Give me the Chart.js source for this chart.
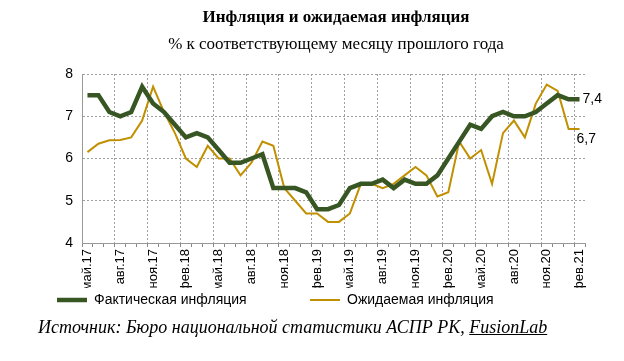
<!DOCTYPE html>
<html>
<head>
<meta charset="utf-8">
<script src="https://cdn.jsdelivr.net/npm/chart.js@4"></script>
<style>
  body { margin: 0; background: #fff; }
  #wrap { position: relative; width: 624px; height: 361px; }
  #chart { position: absolute; left: 0; top: 0; }
  .txt { position: absolute; font-family: "Liberation Serif", "Times New Roman", serif; color: #000; white-space: nowrap; line-height: 20px; }
  #title { left: 0; width: 672px; top: 7px; text-align: center; font-weight: bold; font-size: 17px; }
  #sub { left: 0; width: 672px; top: 34px; text-align: center; font-size: 17px; }
  #src { left: 38px; top: 317px; font-style: italic; font-size: 18px; }
</style>
</head>
<body>
<div id="wrap">
  <canvas id="chart" width="624" height="361"></canvas>
  <div class="txt" id="title">Инфляция и ожидаемая инфляция</div>
  <div class="txt" id="sub">% к соответствующему месяцу прошлого года</div>
  <div class="txt" id="src">Источник: Бюро национальной статистики АСПР РК, <u>FusionLab</u></div>
</div>
<script>
const months = [
  'май.17','июн.17','июл.17','авг.17','сен.17','окт.17','ноя.17','дек.17',
  'янв.18','фев.18','мар.18','апр.18','май.18','июн.18','июл.18','авг.18','сен.18','окт.18','ноя.18','дек.18',
  'янв.19','фев.19','мар.19','апр.19','май.19','июн.19','июл.19','авг.19','сен.19','окт.19','ноя.19','дек.19',
  'янв.20','фев.20','мар.20','апр.20','май.20','июн.20','июл.20','авг.20','сен.20','окт.20','ноя.20','дек.20',
  'янв.21','фев.21'
];

// Фактическая инфляция
const actual = [
  7.5, 7.5, 7.1, 7.0, 7.1, 7.7, 7.3, 7.1,
  6.8, 6.5, 6.6, 6.5, 6.2, 5.9, 5.9, 6.0, 6.1, 5.3, 5.3, 5.3,
  5.2, 4.8, 4.8, 4.9, 5.3, 5.4, 5.4, 5.5, 5.3, 5.5, 5.4, 5.4,
  5.6, 6.0, 6.4, 6.8, 6.7, 7.0, 7.1, 7.0, 7.0, 7.1, 7.3, 7.5,
  7.4, 7.4
];

// Ожидаемая инфляция
const expected = [
  6.15, 6.35, 6.43, 6.44, 6.5, 6.9, 7.7, 7.1,
  6.6, 6.0, 5.8, 6.3, 6.0, 6.0, 5.6, 5.9, 6.4, 6.3, 5.3, 5.0,
  4.7, 4.7, 4.5, 4.5, 4.7, 5.4, 5.4, 5.3, 5.4, 5.6, 5.8, 5.6,
  5.1, 5.2, 6.4, 6.0, 6.2, 5.4, 6.6, 6.9, 6.5, 7.3, 7.75, 7.6,
  6.7, 6.7
];

const yTicks = [4, 5, 6, 7, 8];

const GREEN = '#375623';
const GOLD = '#C09000';
const GRID = '#a0a0a0';

// подписи последних значений (7,4 и 6,7)
const endLabels = {
  id: 'endLabels',
  afterDatasetsDraw(chart) {
    const c = chart.ctx;
    c.save();
    c.font = '14px "Liberation Sans", Arial, sans-serif';
    c.fillStyle = '#000';
    chart.data.datasets.forEach((ds, i) => {
      const meta = chart.getDatasetMeta(i);
      const pt = meta.data[meta.data.length - 1];
      const v = ds.data[ds.data.length - 1];
      const txt = v.toFixed(1).replace('.', ',');
      if (i === 0) {
        c.textBaseline = 'middle';
        c.fillText(txt, pt.x + 3, pt.y);
      } else {
        c.textBaseline = 'top';
        c.fillText(txt, pt.x - 3, pt.y + 3);
      }
    });
    c.restore();
  }
};

const ctx = document.getElementById('chart');
new Chart(ctx, {
  type: 'line',
  data: {
    labels: months,
    datasets: [{
      label: 'Фактическая инфляция',
      data: actual,
      borderColor: GREEN,
      backgroundColor: GREEN,
      borderWidth: 4.5,
      pointRadius: 0
    }, {
      label: 'Ожидаемая инфляция',
      data: expected,
      borderColor: GOLD,
      backgroundColor: GOLD,
      borderWidth: 2,
      pointRadius: 0
    }]
  },
  options: {
    responsive: false,
    animation: false,
    layout: { padding: { top: 74, left: 52, right: 39, bottom: 44 } },
    plugins: {
      tooltip: { enabled: false },
      legend: {
        position: 'bottom',
        align: 'start',
        labels: {
          usePointStyle: true,
          pointStyle: 'line',
          pointStyleWidth: 30,
          padding: 5,
          color: '#000',
          font: { family: 'Liberation Sans', size: 14 },
          generateLabels(chart) {
            const items = Chart.defaults.plugins.legend.labels.generateLabels(chart);
            items[0].text += '\u00a0'.repeat(15);
            return items;
          }
        }
      }
    },
    scales: {
      x: {
        offset: true,
        grid: {
          offset: true,
          color: c => c.index % 3 === 0 ? GRID : 'rgba(0,0,0,0)',
          tickColor: '#888',
          tickLength: 4
        },
        border: { color: '#999', dash: [2, 2] },
        ticks: {
          autoSkip: false,
          minRotation: 90,
          maxRotation: 90,
          padding: 2,
          color: '#000',
          font: { family: 'Liberation Sans', size: 13 },
          callback: function (v, i) { return i % 3 === 0 ? this.getLabelForValue(v) : ''; }
        },
        afterFit: s => { s.height = 45; }
      },
      y: {
        min: 4,
        max: 8,
        afterBuildTicks: s => { s.ticks = yTicks.map(v => ({ value: v })); },
        ticks: {
          padding: 9,
          color: '#000',
          font: { family: 'Liberation Sans', size: 14 }
        },
        grid: { color: GRID, drawTicks: false },
        border: { color: '#999', dash: [2, 2] },
        afterFit: s => { s.width = 30; }
      }
    }
  },
  plugins: [endLabels]
});
</script>
</body>
</html>
